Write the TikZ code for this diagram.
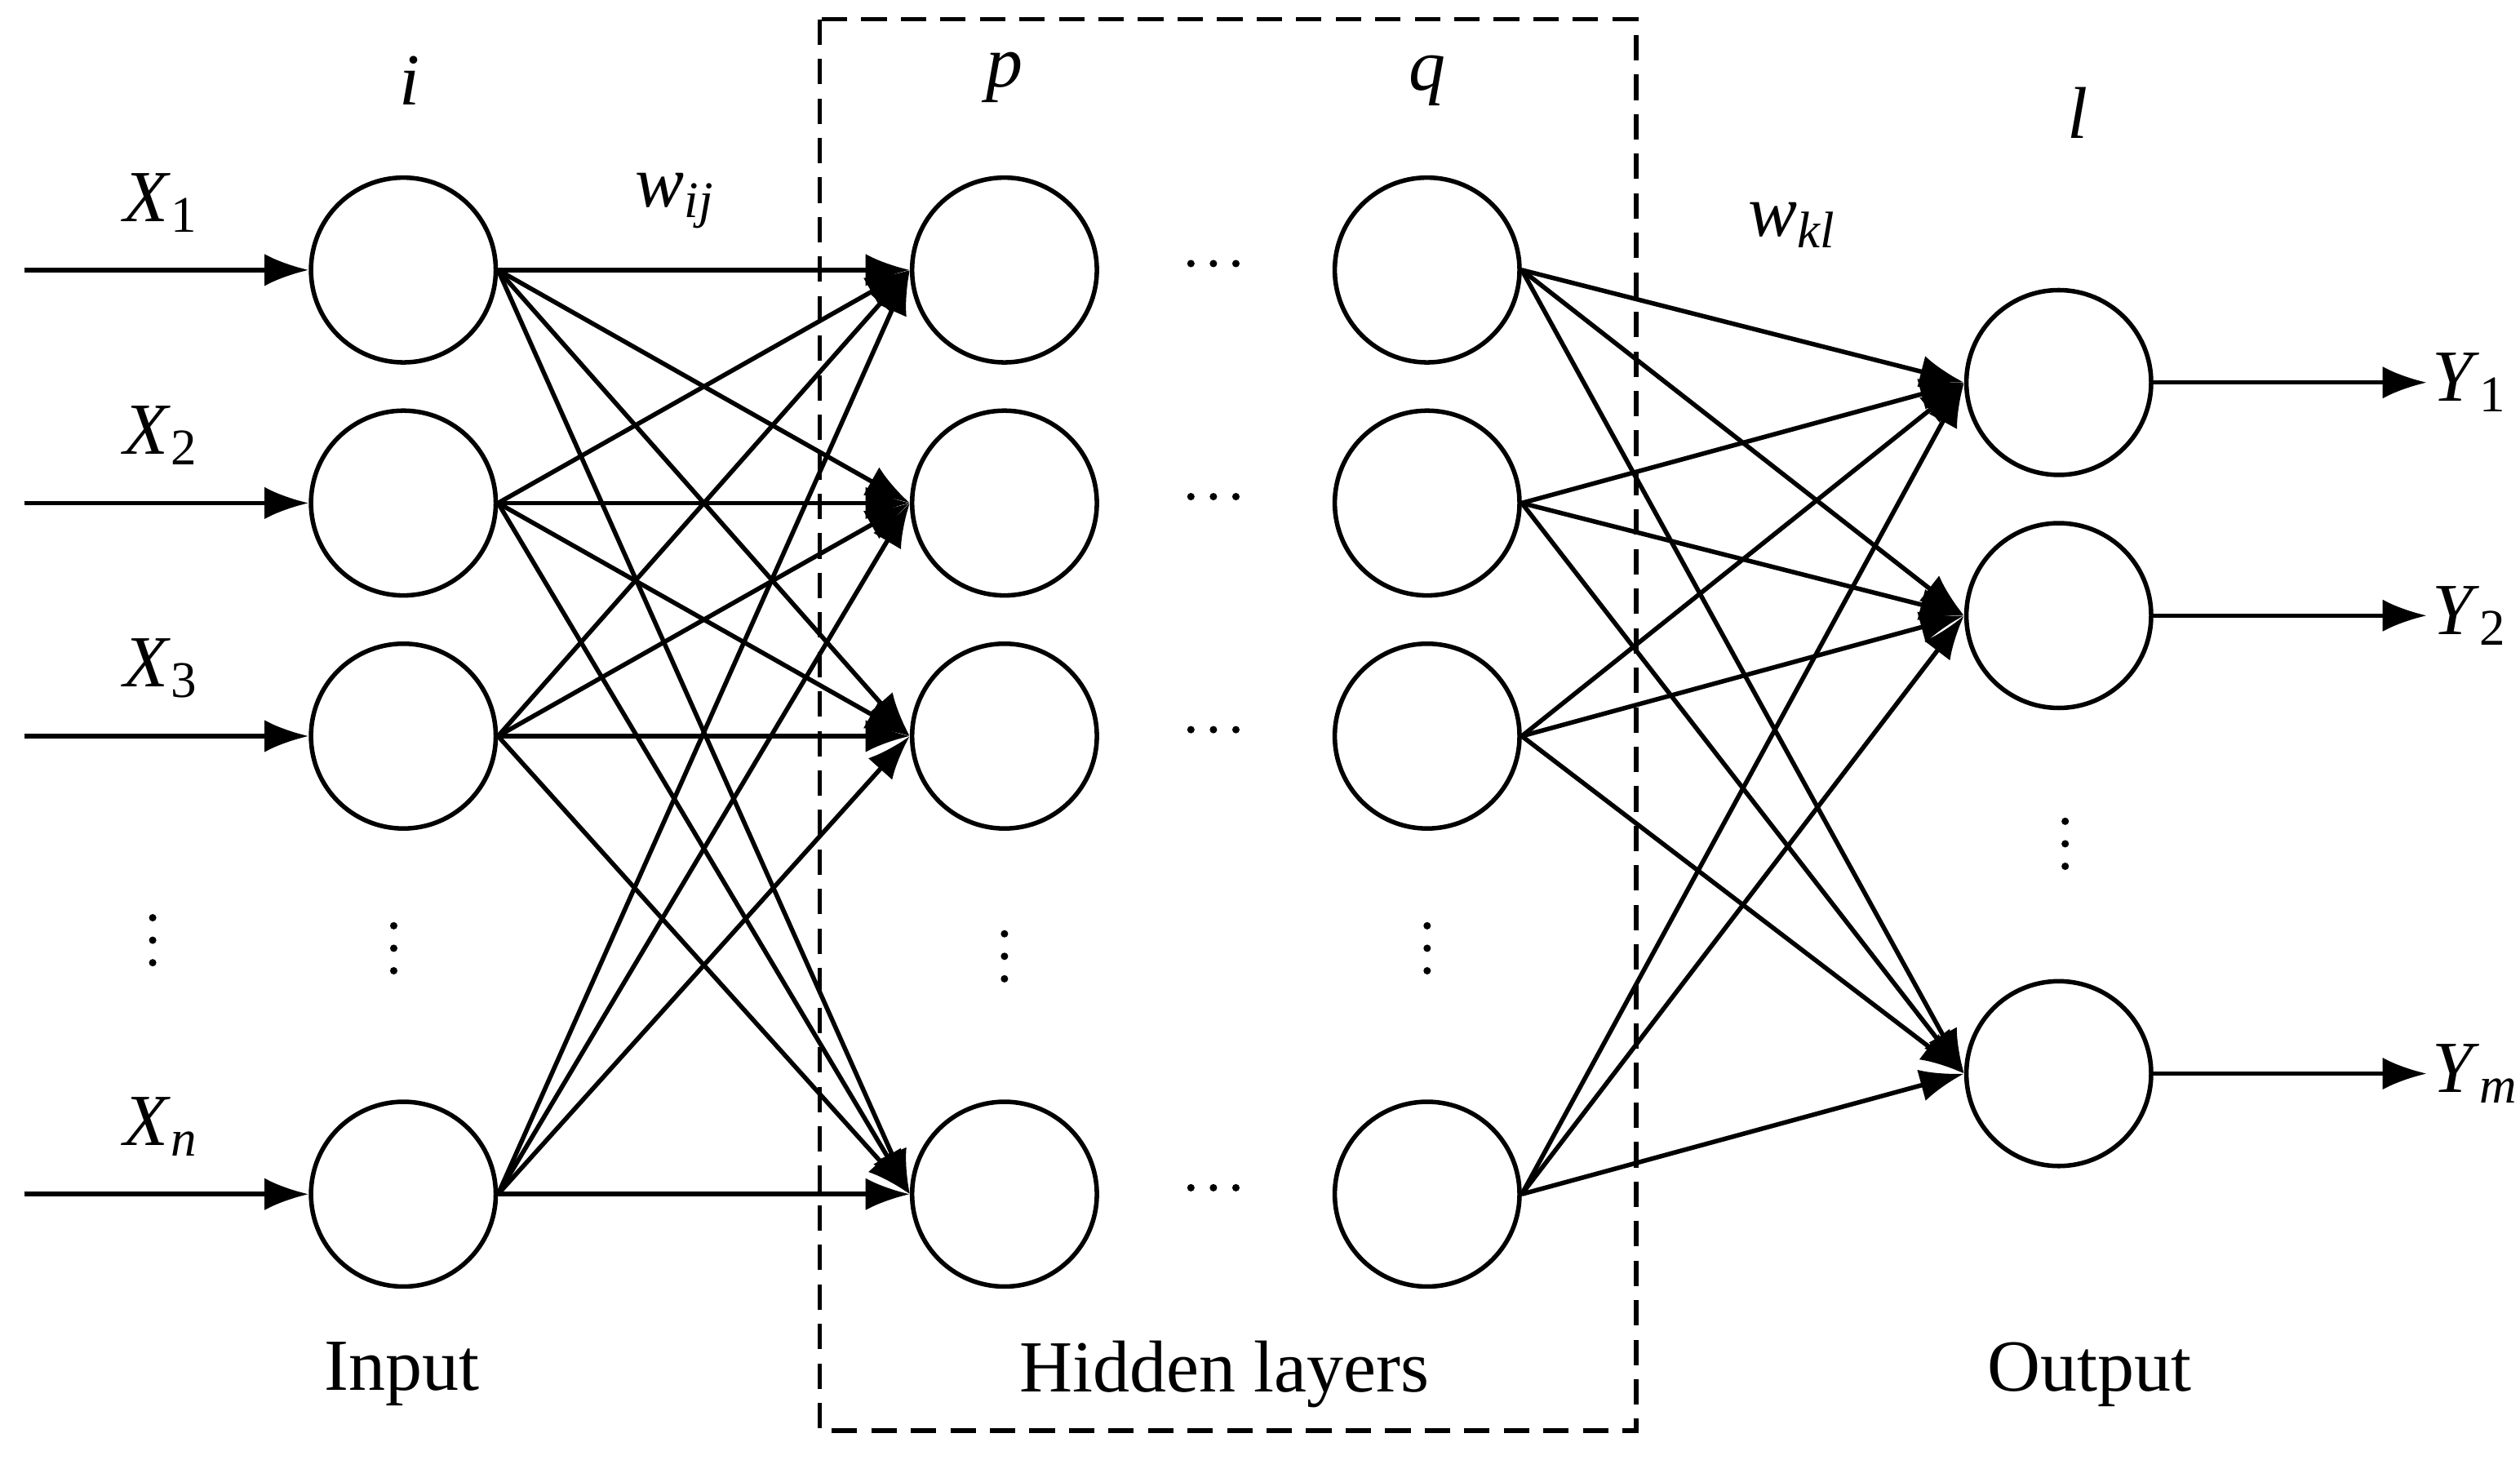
\documentclass[tikz,border=0pt]{standalone}
\usepackage{fontspec}
\setmainfont{Liberation Serif}
\usetikzlibrary{arrows.meta}
\newcommand{\vlab}[2]{\textit{#1}\textsubscript{#2}}
\begin{document}
\begin{tikzpicture}[x=0.02cm,y=-0.02cm,
    neuron/.style={draw,circle,line width=1.6pt,minimum size=2.3cm,inner sep=0pt},
    link/.style={line width=1.6pt,-{Latex[length=0.55cm,width=0.4cm]}},
    lbl/.style={font=\fontsize{26}{30}\selectfont,inner sep=1pt},
    dot/.style={fill,circle,inner sep=0pt,minimum size=0.09cm}]
        \useasboundingbox (0,0) rectangle (1568,908);
        %虚线框
        \draw[line width=1.6pt,dash pattern=on 9pt off 5pt] (510,12) rectangle (1018,890);
        %画各层神经元
        \foreach \y/\n in {168/1,313/2,458/3,743/4}
        {
                \node[neuron] (in\n) at (251,\y) {};
                \node[neuron] (p\n) at (625,\y) {};
                \node[neuron] (q\n) at (888,\y) {};
                \foreach \d in {-14,0,14}
                        \fill (755+\d,\y-4) circle (2.3);
        };
        \foreach \y/\n in {238/1,383/2,668/3}
                \node[neuron] (out\n) at (1281,\y) {};
        %输入和输出箭头
        \foreach \y/\n/\t in {168/1/1,313/2/2,458/3/3,743/4/\textit{n}}
        {
                \coordinate (s\n) at (15,\y);
                \draw[link] (s\n) -- (in\n);
                \node[lbl] at (100,\y-42) {\vlab{X}{\t}};
        };
        \foreach \n/\t in {1/1,2/2,3/\textit{m}}
        {
                \coordinate (e\n) at (1510,0 |- out\n);
                \draw[link] (out\n) -- (e\n) node[right,lbl] {\vlab{Y}{\t}};
        };
        %全连接
        \foreach \a in {1,...,4}
                \foreach \b in {1,...,4}
                        \draw[link] (in\a.east) -- (p\b.west);
        \foreach \a in {1,...,4}
                \foreach \b in {1,...,3}
                        \draw[link] (q\a.east) -- (out\b.west);
        %省略号
        \foreach \x/\y in {95/585,245/590,625/595,888/590,1285/525}
                \foreach \d in {-14,0,14}
                        \fill (\x,\y+\d) circle (2.3);
        %标注
        \node[lbl] at (255,50) {\textit{i}};
        \node[lbl] at (625,48) {\textit{p}};
        \node[lbl] at (888,50) {\textit{q}};
        \node[lbl] at (1293,70) {\textit{l}};
        \node[lbl] at (420,125) {\vlab{w}{\textit{ij}}};
        \node[lbl] at (1115,140) {\vlab{w}{\textit{kl}}};
        \node[lbl] at (250,855) {Input};
        \node[lbl] at (762,855) {Hidden layers};
        \node[lbl] at (1300,855) {Output};
\end{tikzpicture}
\end{document}
